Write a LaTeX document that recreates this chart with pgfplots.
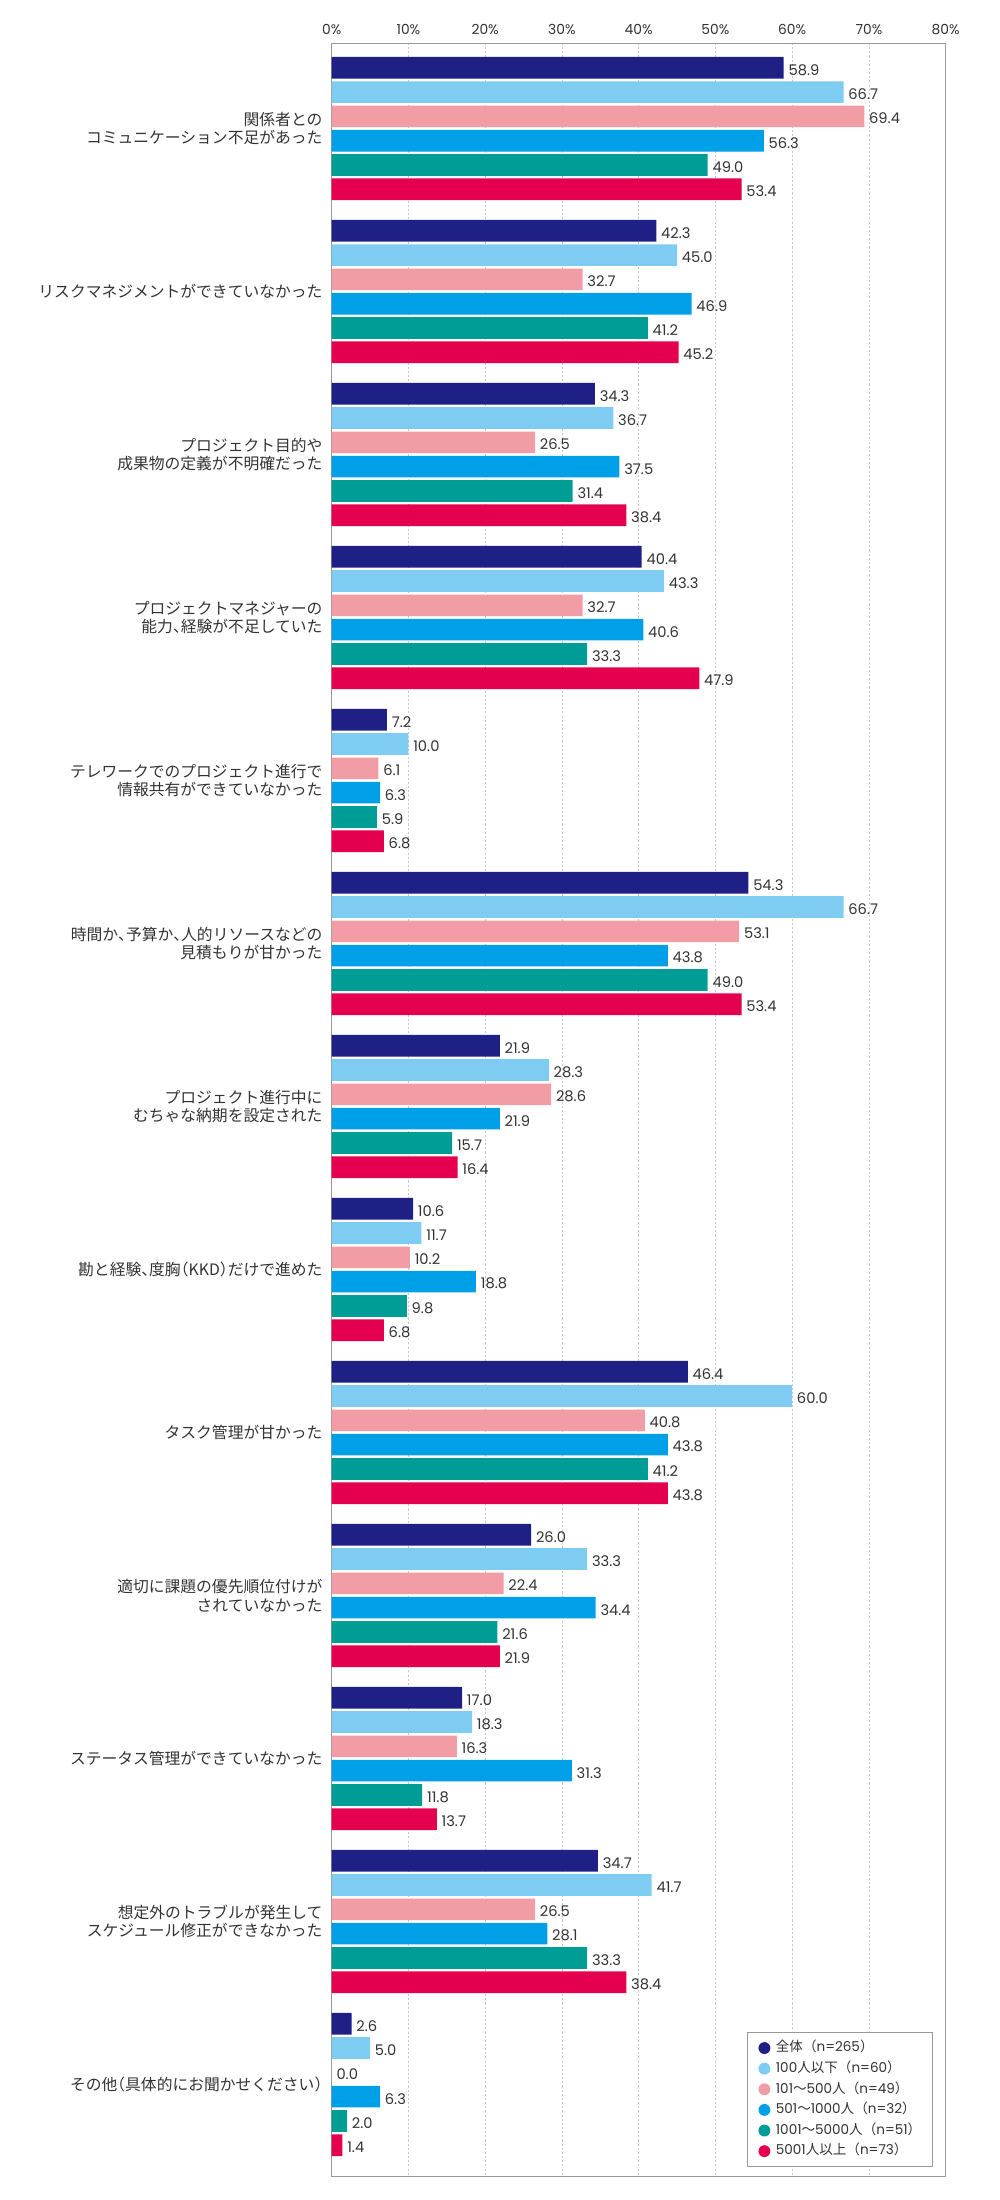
\documentclass[border=0pt]{standalone}
\usepackage{fontspec}
\setmainfont{Poppins}
\newfontfamily\jp{Noto Sans CJK JP}
\newfontfamily\jph[RawFeature=+halt]{Noto Sans CJK JP}
\newcommand\hp[1]{{\jph #1}}
\usepackage{pgfplots}
\usepackage{pgfplotstable}
\pgfplotsset{compat=1.18}
\definecolor{c1}{HTML}{1E2085}
\definecolor{c2}{HTML}{7FCCF3}
\definecolor{c3}{HTML}{F29CA6}
\definecolor{c4}{HTML}{00A0E9}
\definecolor{c5}{HTML}{009C96}
\definecolor{c6}{HTML}{E5004F}
\definecolor{txt}{HTML}{333333}
\definecolor{frame}{HTML}{999999}
\definecolor{gridc}{HTML}{C8C8C8}
\pgfplotstableread{
k a b c d e f
0 58.9 66.7 69.4 56.3 49.0 53.4
1 42.3 45.0 32.7 46.9 41.2 45.2
2 34.3 36.7 26.5 37.5 31.4 38.4
3 40.4 43.3 32.7 40.6 33.3 47.9
4 7.2 10.0 6.1 6.3 5.9 6.8
5 54.3 66.7 53.1 43.8 49.0 53.4
6 21.9 28.3 28.6 21.9 15.7 16.4
7 10.6 11.7 10.2 18.8 9.8 6.8
8 46.4 60.0 40.8 43.8 41.2 43.8
9 26.0 33.3 22.4 34.4 21.6 21.9
10 17.0 18.3 16.3 31.3 11.8 13.7
11 34.7 41.7 26.5 28.1 33.3 38.4
12 2.6 5.0 0.0 6.3 2.0 1.4
}\data
\begin{document}
\begin{tikzpicture}
\begin{axis}[
  name=ax,
  scale only axis,
  width=443.7pt, height=1541.5pt,
  xbar, bar width=0.133,
  xmin=0, xmax=80,
  ymin=-0.5245, ymax=12.562, y dir=reverse,
  xtick={0,10,...,80},
  xticklabel={\pgfmathprintnumber{\tick}\%},
  xticklabel pos=upper,
  ytick={0,...,12},
  yticklabels={
    {関係者との\\コミュニケーション不足があった},
    {リスクマネジメントができていなかった},
    {プロジェクト目的や\\成果物の定義が不明確だった},
    {プロジェクトマネジャーの\\能力\hp{、}経験が不足していた},
    {テレワークでのプロジェクト進行で\\情報共有ができていなかった},
    {時間か\hp{、}予算か\hp{、}人的リソースなどの\\見積もりが甘かった},
    {プロジェクト進行中に\\むちゃな納期を設定された},
    {勘と経験\hp{、}度胸\hp{（}KKD\hp{）}だけで進めた},
    {タスク管理が甘かった},
    {適切に課題の優先順位付けが\\されていなかった},
    {ステータス管理ができていなかった},
    {想定外のトラブルが発生して\\スケジュール修正ができなかった},
    {その他\hp{（}具体的にお聞かせください\hp{）}}
  },
  major tick length=0pt,
  xmajorgrids,
  grid style={gridc, dash pattern=on 1.5pt off 1.5pt, line width=0.5pt},
  axis line style={frame, line width=0.6pt},
  /pgf/number format/assume math mode=true,
  xticklabel style={font=\fontsize{10}{12}\selectfont, text=txt, inner sep=0pt, yshift=6pt},
  yticklabel style={font=\jp\fontsize{11.4}{13.5}\selectfont, text=txt, align=right, inner sep=0pt, xshift=-6.5pt},
  point meta=x,
  nodes near coords,
  nodes near coords style={font=\fontsize{10.6}{12}\selectfont, text=txt, anchor=west, inner sep=0pt, xshift=3.3pt, yshift=-1.5pt,
    /pgf/number format/.cd, fixed, zerofill, precision=1},
  legend cell align=left,
  legend image code/.code={\fill[#1,draw=none] (0pt,0pt) circle (4.3pt);},
  legend style={at={(axis description cs:0.979,0.0042)}, anchor=south east,
    draw=frame, line width=0.6pt, font=\fontsize{9.8}{11}\selectfont, text=txt,
    inner xsep=8pt, inner ysep=6pt, row sep=4.4pt, column sep=4pt,
    nodes={inner sep=0pt, text height=8pt, text depth=2.5pt}},
]
\addplot[fill=c1, draw=none, bar shift=-0.3725] table[x=a, y=k] {\data};
\addlegendentry{{\jp 全体（}n=265{\jp ）}}
\addplot[fill=c2, draw=none, bar shift=-0.2235] table[x=b, y=k] {\data};
\addlegendentry{100{\jp 人以下（}n=60{\jp ）}}
\addplot[fill=c3, draw=none, bar shift=-0.0745] table[x=c, y=k] {\data};
\addlegendentry{101{\jp ～}500{\jp 人（}n=49{\jp ）}}
\addplot[fill=c4, draw=none, bar shift=0.0745] table[x=d, y=k] {\data};
\addlegendentry{501{\jp ～}1000{\jp 人（}n=32{\jp ）}}
\addplot[fill=c5, draw=none, bar shift=0.2235] table[x=e, y=k] {\data};
\addlegendentry{1001{\jp ～}5000{\jp 人（}n=51{\jp ）}}
\addplot[fill=c6, draw=none, bar shift=0.3725] table[x=f, y=k] {\data};
\addlegendentry{5001{\jp 人以上（}n=73{\jp ）}}
\end{axis}
\pgfresetboundingbox
\path[use as bounding box] ([xshift=-239.7pt,yshift=-17.3pt]ax.south west) rectangle ([xshift=39pt,yshift=31.1pt]ax.north east);
\end{tikzpicture}
\end{document}
